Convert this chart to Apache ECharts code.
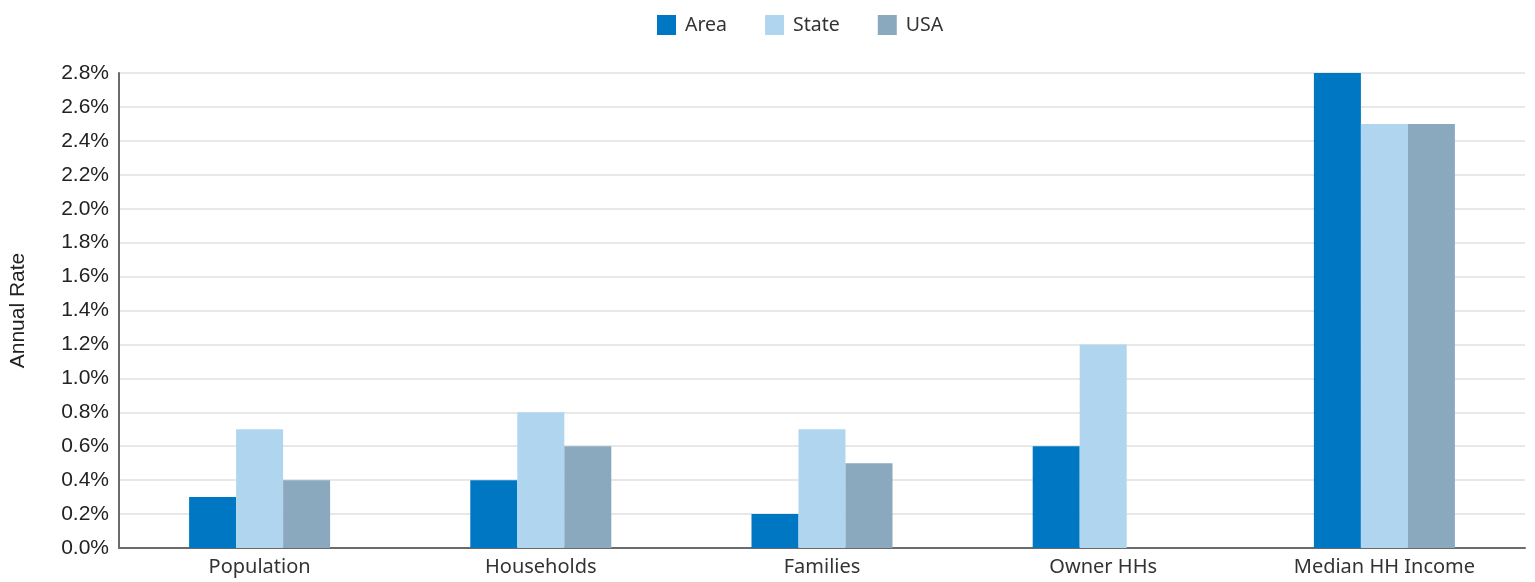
<!DOCTYPE html>
<html><head><meta charset="utf-8">
<script src="https://cdn.jsdelivr.net/npm/echarts@6/dist/echarts.min.js"></script>
<style>html,body{margin:0;padding:0;background:#fff}#c{width:1535px;height:582px}</style>
</head><body><div id="c"></div>
<script>
const categories = ['Population','Households','Families','Owner HHs','Median HH Income'];
const areaValues = [0.3, 0.4, 0.2, 0.6, 2.8];
const stateValues = [0.7, 0.8, 0.7, 1.2, 2.5];
const usaValues = [0.4, 0.6, 0.5, null, 2.5];
const seriesNames = ['Area','State','USA'];
const colors = ['#0077c2','#b0d6ef','#8aa9bf'];

const chart = echarts.init(document.getElementById('c'));
const mk = (name, data, color) => ({
  name, type:'bar', data, barWidth:47, barGap:'0%',
  itemStyle:{color}
});
chart.setOption({
  animation:false,
  legend:{
    top:10, left:652, itemWidth:19, itemHeight:20, itemGap:38,
    icon:'rect',
    textStyle:{fontFamily:'Noto Sans', fontSize:19.5, color:'#333', padding:[0,0,0,4]},
    data:seriesNames
  },
  grid:{left:119, right:10, top:73, bottom:34, containLabel:false, outerBoundsMode:'none'},
  xAxis:{
    type:'category', data:categories,
    axisLine:{lineStyle:{color:'#6b6b6b', width:2}},
    axisTick:{show:false},
    axisLabel:{fontFamily:'Noto Sans', fontSize:20, color:'#333', margin:9}
  },
  yAxis:{
    type:'value', min:0, max:2.8, interval:0.2,
    name:'Annual Rate', nameLocation:'middle', nameGap:90, nameRotate:90,
    nameTextStyle:{fontFamily:'Liberation Sans', fontSize:21, color:'#222'},
    axisLine:{show:true, lineStyle:{color:'#6b6b6b', width:2}},
    axisTick:{show:false},
    splitLine:{lineStyle:{color:'#e0e0e0', width:1.5}},
    axisLabel:{fontFamily:'Liberation Sans', fontSize:21, color:'#222', margin:10,
      formatter:v=>v.toFixed(1)+'%'}
  },
  series:[mk(seriesNames[0],areaValues,colors[0]), mk(seriesNames[1],stateValues,colors[1]), mk(seriesNames[2],usaValues,colors[2])]
});
</script></body></html>
